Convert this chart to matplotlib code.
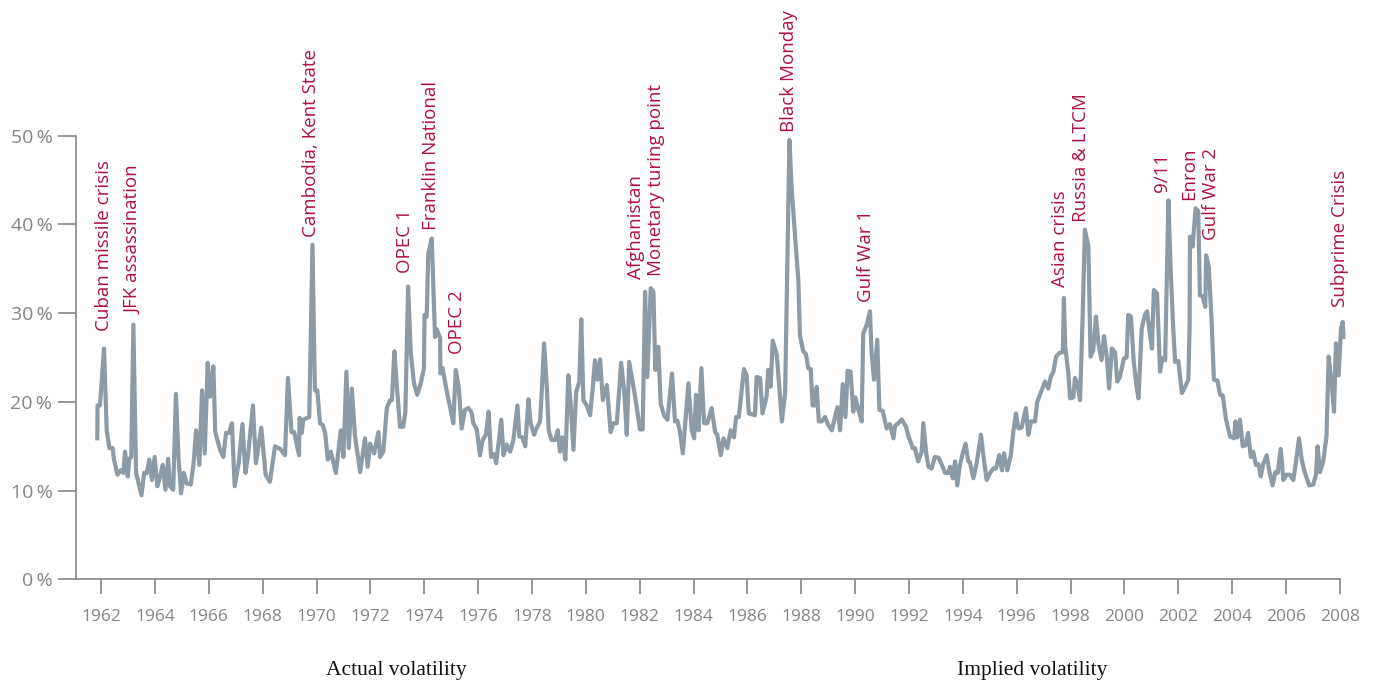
import matplotlib.pyplot as plt

# monthly-ish volatility readings (decimal year, % vol)
years = [
    1961.86, 1961.87, 1961.96, 1962.11, 1962.21, 1962.31, 1962.43, 1962.48, 1962.61, 1962.73,
    1962.83, 1962.89, 1962.99, 1963.05, 1963.12, 1963.20, 1963.30, 1963.50, 1963.60, 1963.70,
    1963.79, 1963.89, 1963.99, 1964.09, 1964.19, 1964.29, 1964.39, 1964.49, 1964.56, 1964.68,
    1964.78, 1964.88, 1964.97, 1965.07, 1965.18, 1965.33, 1965.43, 1965.53, 1965.65, 1965.75,
    1965.85, 1965.96, 1966.05, 1966.17, 1966.24, 1966.42, 1966.54, 1966.64, 1966.75, 1966.86,
    1966.96, 1967.11, 1967.25, 1967.36, 1967.46, 1967.64, 1967.75, 1967.95, 1968.11, 1968.27,
    1968.34, 1968.46, 1968.65, 1968.83, 1968.94, 1969.07, 1969.17, 1969.35, 1969.37, 1969.45,
    1969.51, 1969.73, 1969.85, 1969.94, 1970.03, 1970.13, 1970.23, 1970.32, 1970.42, 1970.53,
    1970.72, 1970.90, 1971.00, 1971.11, 1971.20, 1971.31, 1971.43, 1971.62, 1971.80, 1971.90,
    1971.99, 1972.14, 1972.30, 1972.36, 1972.48, 1972.61, 1972.73, 1972.80, 1972.89, 1972.98,
    1973.10, 1973.22, 1973.30, 1973.40, 1973.50, 1973.62, 1973.74, 1973.87, 1973.99, 1974.01,
    1974.09, 1974.15, 1974.28, 1974.40, 1974.46, 1974.59, 1974.60, 1974.68, 1974.83, 1974.98,
    1975.08, 1975.17, 1975.28, 1975.39, 1975.51, 1975.64, 1975.76, 1975.82, 1975.95, 1976.07,
    1976.17, 1976.29, 1976.39, 1976.48, 1976.59, 1976.67, 1976.86, 1976.94, 1977.06, 1977.19,
    1977.31, 1977.46, 1977.53, 1977.64, 1977.75, 1977.87, 1977.95, 1978.08, 1978.15, 1978.30,
    1978.36, 1978.45, 1978.55, 1978.62, 1978.73, 1978.86, 1978.96, 1979.04, 1979.13, 1979.24,
    1979.35, 1979.44, 1979.54, 1979.64, 1979.76, 1979.83, 1979.91, 1980.03, 1980.16, 1980.26,
    1980.34, 1980.43, 1980.53, 1980.63, 1980.78, 1980.92, 1981.02, 1981.15, 1981.31, 1981.43,
    1981.52, 1981.61, 1981.83, 1982.01, 1982.11, 1982.20, 1982.28, 1982.41, 1982.51, 1982.58,
    1982.69, 1982.78, 1982.90, 1983.03, 1983.20, 1983.31, 1983.40, 1983.50, 1983.60, 1983.81,
    1983.93, 1984.02, 1984.09, 1984.18, 1984.29, 1984.39, 1984.51, 1984.67, 1984.80, 1984.88,
    1985.01, 1985.11, 1985.25, 1985.38, 1985.50, 1985.58, 1985.68, 1985.87, 1985.97, 1986.05,
    1986.16, 1986.28, 1986.34, 1986.47, 1986.56, 1986.71, 1986.77, 1986.86, 1986.94, 1987.09,
    1987.18, 1987.28, 1987.40, 1987.56, 1987.64, 1987.77, 1987.89, 1987.95, 1988.07, 1988.17,
    1988.26, 1988.35, 1988.42, 1988.51, 1988.57, 1988.65, 1988.76, 1988.88, 1989.00, 1989.13,
    1989.25, 1989.34, 1989.44, 1989.54, 1989.64, 1989.72, 1989.83, 1989.93, 1990.01, 1990.12,
    1990.24, 1990.30, 1990.43, 1990.55, 1990.61, 1990.70, 1990.82, 1990.90, 1991.02, 1991.17,
    1991.29, 1991.42, 1991.48, 1991.60, 1991.73, 1991.89, 1991.97, 1992.14, 1992.22, 1992.34,
    1992.47, 1992.53, 1992.63, 1992.72, 1992.84, 1992.96, 1993.10, 1993.25, 1993.34, 1993.46,
    1993.52, 1993.62, 1993.71, 1993.79, 1993.89, 1994.01, 1994.10, 1994.20, 1994.26, 1994.39,
    1994.51, 1994.67, 1994.76, 1994.88, 1995.01, 1995.13, 1995.23, 1995.35, 1995.45, 1995.53,
    1995.65, 1995.78, 1995.87, 1995.97, 1996.06, 1996.18, 1996.34, 1996.43, 1996.53, 1996.68,
    1996.76, 1996.86, 1997.05, 1997.17, 1997.26, 1997.36, 1997.46, 1997.58, 1997.71, 1997.75,
    1997.80, 1997.91, 1997.98, 1998.10, 1998.16, 1998.25, 1998.35, 1998.45, 1998.53, 1998.66,
    1998.74, 1998.84, 1998.94, 1999.03, 1999.15, 1999.24, 1999.34, 1999.43, 1999.53, 1999.65,
    1999.73, 1999.83, 1999.98, 2000.08, 2000.14, 2000.24, 2000.35, 2000.45, 2000.52, 2000.64,
    2000.76, 2000.84, 2000.94, 2001.02, 2001.09, 2001.21, 2001.32, 2001.41, 2001.51, 2001.63,
    2001.72, 2001.81, 2001.88, 2002.00, 2002.13, 2002.24, 2002.37, 2002.42, 2002.43, 2002.53,
    2002.64, 2002.74, 2002.80, 2002.90, 2003.00, 2003.03, 2003.13, 2003.24, 2003.32, 2003.45,
    2003.55, 2003.65, 2003.77, 2003.92, 2004.07, 2004.12, 2004.19, 2004.29, 2004.39, 2004.49,
    2004.59, 2004.69, 2004.78, 2004.88, 2004.97, 2005.06, 2005.15, 2005.28, 2005.39, 2005.50,
    2005.60, 2005.69, 2005.80, 2005.90, 2006.02, 2006.14, 2006.27, 2006.37, 2006.48, 2006.58,
    2006.70, 2006.86, 2007.01, 2007.11, 2007.17, 2007.26, 2007.38, 2007.50, 2007.58, 2007.69,
    2007.78, 2007.85, 2007.95, 2008.04, 2008.10, 2008.13,
]
vol = [
    15.9, 19.6, 19.6, 26.0, 16.8, 14.8, 14.8, 13.5, 11.8, 12.3,
    12.0, 14.4, 11.6, 13.6, 13.8, 28.7, 12.0, 9.5, 12.0, 12.0,
    13.5, 11.2, 13.8, 10.5, 11.6, 12.9, 10.1, 13.6, 10.5, 10.1,
    20.9, 13.5, 9.7, 12.0, 10.8, 10.7, 12.9, 16.8, 12.9, 21.3,
    14.2, 24.4, 20.6, 24.0, 16.6, 14.6, 13.8, 16.5, 16.5, 17.6,
    10.5, 13.1, 17.5, 12.0, 14.0, 19.6, 13.1, 17.1, 11.8, 11.0,
    12.5, 15.0, 14.7, 14.0, 22.7, 16.6, 16.6, 14.0, 18.2, 16.5,
    18.0, 18.3, 37.7, 21.3, 21.3, 17.6, 17.4, 16.5, 13.5, 14.4,
    12.0, 16.8, 13.8, 23.4, 14.8, 21.5, 16.1, 12.1, 15.9, 12.7,
    15.3, 14.2, 16.6, 13.8, 14.4, 19.3, 20.2, 20.2, 25.7, 21.9,
    17.2, 17.2, 18.9, 33.0, 25.5, 22.1, 20.8, 22.1, 23.8, 29.8,
    29.6, 36.7, 38.4, 27.3, 28.2, 27.2, 23.2, 23.8, 21.3, 19.1,
    17.6, 23.6, 21.7, 17.0, 19.1, 19.3, 18.8, 17.6, 16.9, 14.0,
    15.7, 16.3, 18.9, 13.8, 14.1, 13.1, 18.0, 14.0, 15.2, 14.4,
    15.7, 19.6, 16.1, 16.0, 15.0, 20.3, 17.6, 16.3, 16.9, 17.8,
    21.0, 26.6, 21.7, 16.8, 15.7, 15.7, 16.8, 14.4, 16.0, 13.5,
    23.0, 19.6, 14.6, 21.1, 22.3, 29.3, 20.2, 19.6, 18.5, 21.7,
    24.7, 22.5, 24.8, 20.2, 21.9, 16.6, 17.6, 17.6, 24.4, 21.0,
    16.3, 24.5, 20.6, 16.9, 16.9, 32.4, 22.8, 32.8, 32.4, 23.6,
    26.2, 19.8, 18.5, 18.0, 23.2, 17.8, 17.9, 16.5, 14.2, 22.1,
    16.8, 15.9, 20.8, 16.8, 23.8, 17.6, 17.6, 19.3, 16.6, 16.3,
    14.0, 15.9, 14.8, 16.8, 16.0, 18.3, 18.3, 23.7, 23.0, 18.7,
    18.6, 18.5, 22.8, 22.7, 18.7, 20.6, 23.6, 21.7, 26.9, 25.3,
    21.7, 17.8, 21.0, 49.5, 44.2, 38.6, 33.7, 27.5, 25.7, 25.4,
    23.8, 23.7, 19.6, 19.6, 21.7, 17.8, 17.8, 18.3, 17.4, 16.8,
    18.3, 19.4, 16.8, 22.0, 18.3, 23.5, 23.4, 18.9, 20.5, 19.1,
    17.8, 27.7, 28.7, 30.2, 25.5, 22.5, 27.0, 19.1, 19.0, 17.0,
    17.5, 15.9, 17.3, 17.6, 18.0, 17.2, 16.2, 14.8, 14.8, 13.3,
    14.4, 17.6, 14.4, 12.7, 12.5, 13.8, 13.7, 12.7, 12.0, 12.0,
    12.7, 11.4, 13.3, 10.6, 12.9, 14.4, 15.3, 13.3, 13.2, 11.4,
    13.1, 16.3, 14.0, 11.2, 12.0, 12.5, 12.5, 14.0, 12.3, 14.2,
    12.3, 14.0, 16.6, 18.7, 17.0, 17.1, 19.3, 16.3, 17.8, 17.8,
    20.0, 20.8, 22.3, 21.5, 22.8, 23.4, 25.1, 25.5, 25.6, 31.7,
    26.2, 23.4, 20.4, 20.5, 22.7, 22.1, 20.2, 30.0, 39.4, 37.5,
    25.1, 25.8, 29.6, 26.6, 24.7, 27.4, 25.1, 21.5, 26.0, 25.6,
    22.3, 22.8, 24.9, 25.0, 29.8, 29.6, 24.3, 21.7, 20.4, 28.3,
    29.8, 30.2, 27.7, 26.0, 32.6, 32.2, 23.4, 24.9, 24.7, 42.7,
    34.5, 28.3, 24.5, 24.6, 21.0, 21.6, 22.5, 28.7, 38.6, 37.5,
    41.8, 41.5, 32.0, 31.9, 30.7, 36.5, 35.2, 28.8, 22.5, 22.4,
    20.8, 20.7, 18.0, 16.1, 15.9, 17.8, 16.0, 18.0, 15.0, 15.1,
    16.5, 13.8, 14.4, 12.9, 13.0, 11.6, 13.0, 14.0, 12.0, 10.6,
    12.1, 12.0, 14.7, 11.2, 11.8, 11.8, 11.2, 13.3, 15.9, 13.5,
    12.0, 10.6, 10.7, 11.8, 15.0, 12.1, 13.3, 16.1, 25.1, 22.1,
    18.9, 26.6, 23.0, 28.3, 29.0, 27.3,
]

events = ["Cuban missile crisis", "JFK assassination", "Cambodia, Kent State", "OPEC 1",
          "Franklin National", "OPEC 2", "Afghanistan", "Monetary turing point",
          "Black Monday", "Gulf War 1", "Asian crisis", "Russia & LTCM", "9/11",
          "Enron", "Gulf War 2", "Subprime Crisis"]
event_year = [1962.11, 1963.2, 1969.8, 1973.3, 1974.25, 1975.2, 1981.86, 1982.6,
              1987.55, 1990.4, 1997.6, 1998.4, 2001.4, 2002.4, 2003.2, 2008.0]
event_level = [28.0, 29.9, 38.6, 34.5, 39.4, 25.4, 33.8, 34.2,
               50.4, 31.3, 32.9, 40.3, 43.6, 42.7, 38.2, 30.7]

yticks = [0, 10, 20, 30, 40, 50]
xticks = list(range(1962, 2009, 2))

grey = '#858585'
line_col = '#8d9ba6'
red = '#b0123f'

plt.rcParams['font.family'] = ['Open Sans', 'DejaVu Sans']

fig = plt.figure(figsize=(13.77, 6.84), dpi=100)
ax = fig.add_axes([0.0552, 0.1528, 0.9218, 0.6491])

ax.plot(years, vol, color=line_col, lw=3, solid_joinstyle='round', clip_on=False)

for name, x, y in zip(events, event_year, event_level):
    ax.text(x, y, name, rotation=90, ha='center', va='bottom', color=red,
            fontsize=13.5, clip_on=False)

ax.set_xlim(1961.07, 2008.2)
ax.set_ylim(0, 50)

for s in ['top', 'right']:
    ax.spines[s].set_visible(False)
for s in ['left', 'bottom']:
    ax.spines[s].set_color(grey)
    ax.spines[s].set_linewidth(1.2)
ax.spines['bottom'].set_bounds(1961.07, 2008)

ax.set_yticks(yticks)
ax.set_yticklabels([f'{v}\u2009%' for v in yticks])
ax.set_xticks(xticks)
ax.set_xticklabels([str(v) for v in xticks])
ax.tick_params(axis='y', length=13, width=1.2, color=grey, labelcolor=grey,
               labelsize=14, pad=4)
ax.tick_params(axis='x', length=10.5, width=1.2, color=grey, labelcolor=grey,
               labelsize=12.5, pad=11)

fig.text(396 / 1377, 1 - 671 / 684, 'Actual volatility', ha='center', va='center',
         family='Liberation Serif', fontsize=15.5, color='#111111')
fig.text(1032 / 1377, 1 - 671 / 684, 'Implied volatility', ha='center', va='center',
         family='Liberation Serif', fontsize=15.5, color='#111111')

fig.savefig('out.png', dpi=100)
